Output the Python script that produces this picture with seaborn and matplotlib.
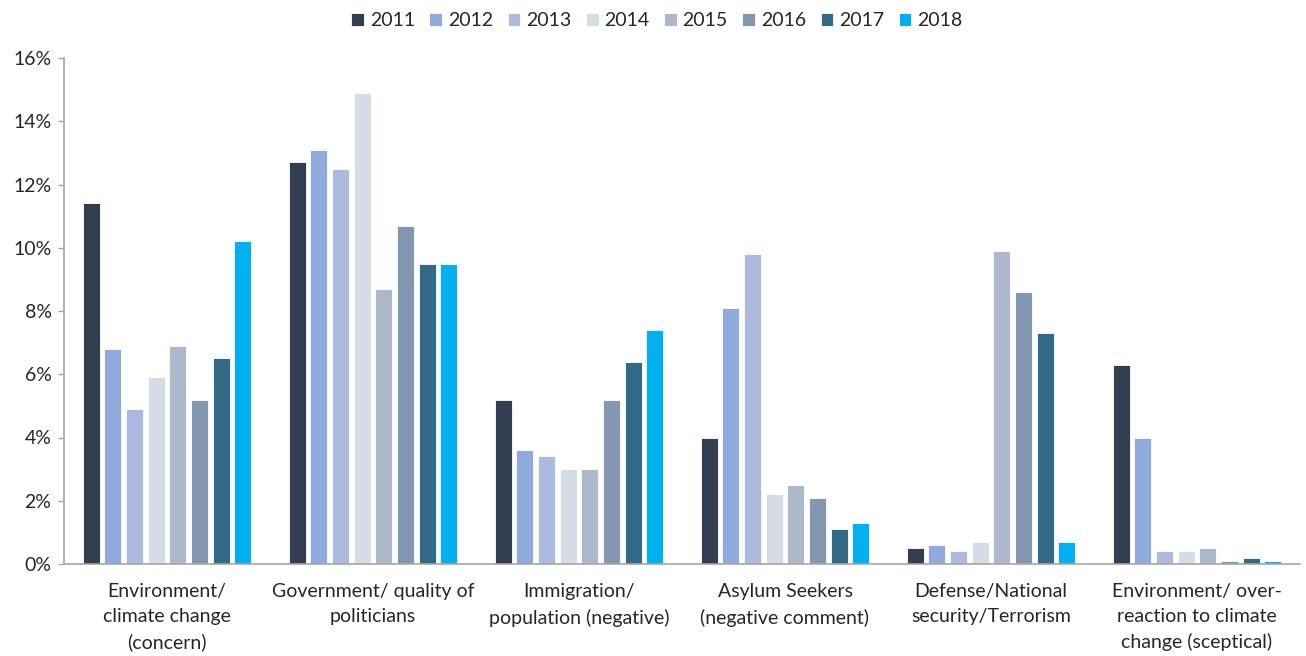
import matplotlib
matplotlib.use("Agg")
import matplotlib.pyplot as plt
import seaborn as sns
import pandas as pd
from matplotlib.ticker import FuncFormatter, MultipleLocator

categories = [
    "Environment/\nclimate change\n(concern)",
    "Government/ quality of\npoliticians",
    "Immigration/\npopulation (negative)",
    "Asylum Seekers\n(negative comment)",
    "Defense/National\nsecurity/Terrorism",
    "Environment/ over-\nreaction to climate\nchange (sceptical)",
]
years = ["2011", "2012", "2013", "2014", "2015", "2016", "2017", "2018"]
v2011 = [11.4, 12.7, 5.2, 4.0, 0.5, 6.3]
v2012 = [6.8, 13.1, 3.6, 8.1, 0.6, 4.0]
v2013 = [4.9, 12.5, 3.4, 9.8, 0.4, 0.4]
v2014 = [5.9, 14.9, 3.0, 2.2, 0.7, 0.4]
v2015 = [6.9, 8.7, 3.0, 2.5, 9.9, 0.5]
v2016 = [5.2, 10.7, 5.2, 2.1, 8.6, 0.1]
v2017 = [6.5, 9.5, 6.4, 1.1, 7.3, 0.2]
v2018 = [10.2, 9.5, 7.4, 1.3, 0.7, 0.1]
series = [v2011, v2012, v2013, v2014, v2015, v2016, v2017, v2018]
colors = ["#333F50", "#8FAADC", "#ADB9DE", "#D6DCE5", "#ADB9CA", "#8497B0", "#326A87", "#00B0F0"]

rows = []
for y, vals in zip(years, series):
    for c, v in zip(categories, vals):
        rows.append({"category": c, "year": y, "value": v})
df = pd.DataFrame(rows)

sns.set_theme(style="white")
plt.rcParams["font.family"] = ["Lato", "DejaVu Sans"]

fig = plt.figure(figsize=(13.06, 6.56), dpi=100)
ax = fig.add_axes([64 / 1306, (656 - 564) / 656, (1300 - 64) / 1306, (564 - 58) / 656])

sns.barplot(data=df, x="category", y="value", hue="year", order=categories,
            hue_order=years, palette=colors, width=0.84, ax=ax,
            edgecolor="white", linewidth=0.6, saturation=1, legend=True)

# narrow bars to leave gaps between them
for p in ax.patches:
    w = p.get_width()
    if w > 0:
        nw = w * 0.79
        p.set_x(p.get_x() + (w - nw) / 2)
        p.set_width(nw)

ax.set_ylim(0, 16)
ax.set_xlim(-0.5, 5.5)
ax.yaxis.set_major_locator(MultipleLocator(2))
ax.yaxis.set_major_formatter(FuncFormatter(lambda v, _: f"{v:.0f}%"))
ax.set_xlabel("")
ax.set_ylabel("")
ax.tick_params(axis="y", labelsize=14, colors="#262626", length=4, color="#A6A6A6", left=True, width=1, pad=5)
ax.tick_params(axis="x", labelsize=14, colors="#262626", length=0, pad=14)
for lbl in ax.get_xticklabels():
    lbl.set_linespacing(1.55)
for s in ["top", "right"]:
    ax.spines[s].set_visible(False)
for s in ["left", "bottom"]:
    ax.spines[s].set_color("#A6A6A6")
    ax.spines[s].set_linewidth(1.2)

handles, labels = ax.get_legend_handles_labels()
ax.legend(handles, labels, loc="upper center", bbox_to_anchor=(0.503, 1.008), bbox_transform=fig.transFigure,
          ncol=8, frameon=False, fontsize=14, handlelength=0.65, handleheight=0.65,
          handletextpad=0.3, columnspacing=0.75, labelcolor="#262626")

fig.savefig("out.png", dpi=100)
